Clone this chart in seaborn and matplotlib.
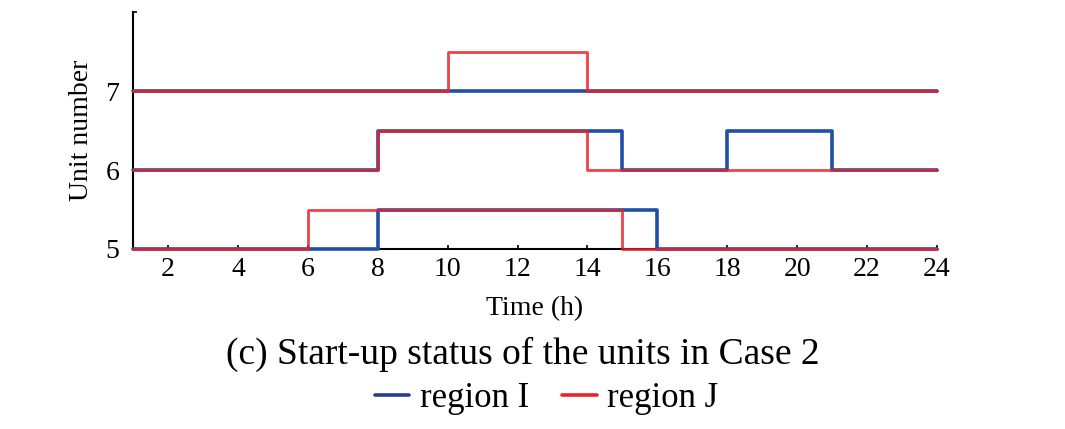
import numpy as np
import pandas as pd
import matplotlib
matplotlib.use("Agg")
import matplotlib.pyplot as plt
from matplotlib.lines import Line2D
import seaborn as sns

# Hourly on/off status of each unit (hours 1..24)
hours = list(range(1, 25))
units = [5, 6, 7]

# region I (blue)
status_I = {
    5: [0]*7 + [1]*8 + [0]*9,          # on from 8 to 16
    6: [0]*7 + [1]*7 + [0]*3 + [1]*3 + [0]*4,  # 8-15, 18-21
    7: [0]*24,
}
# region J (red)
status_J = {
    5: [0]*5 + [1]*9 + [0]*10,         # on from 6 to 15
    6: [0]*7 + [1]*6 + [0]*11,         # on from 8 to 14
    7: [0]*9 + [1]*4 + [0]*11,         # on from 10 to 14
}

blue = "#1f4fa8"
red = "#ec2229"

sns.set_style("ticks")
plt.rcParams["font.family"] = ["Liberation Serif", "DejaVu Serif"]
plt.rcParams["text.color"] = "black"
plt.rcParams["axes.labelcolor"] = "black"

fig = plt.figure(figsize=(10.65, 4.29), dpi=100)
ax = fig.add_axes([0.1249, 0.4196, 0.7549, 0.552])

for u in units:
    df = pd.DataFrame({"hour": hours, "level": [u + 0.5 * s for s in status_I[u]]})
    sns.lineplot(data=df, x="hour", y="level", ax=ax, color=blue, lw=2.6,
                 drawstyle="steps-post", estimator=None, sort=False,
                 zorder=3, clip_on=False)
for u in units:
    df = pd.DataFrame({"hour": hours, "level": [u + 0.5 * s for s in status_J[u]]})
    sns.lineplot(data=df, x="hour", y="level", ax=ax, color=red, lw=2.0, alpha=0.85,
                 drawstyle="steps-post", estimator=None, sort=False,
                 zorder=4, clip_on=False)

ax.set_xlim(1, 24)
ax.set_ylim(5, 8)
ax.set_xticks(range(2, 25, 2))
ax.set_yticks([5, 6, 7, 8])
ax.set_yticklabels(["5", "6", "7", ""])
ax.tick_params(direction="in", length=3, width=1.2, labelsize=20, colors="black")
ax.tick_params(axis="y", pad=10)
ax.tick_params(axis="x", pad=6)
sns.despine(ax=ax)
for s in ["left", "bottom"]:
    ax.spines[s].set_linewidth(1.5)
    ax.spines[s].set_color("black")

ax.set_xlabel("Time (h)", fontsize=20, labelpad=10)
ax.set_ylabel("Unit number", fontsize=20, labelpad=8)

fig.text(0.491, 0.174, "(c) Start-up status of the units in Case 2", ha="center",
         va="center", fontsize=27)

handles = [Line2D([], [], color="#2a3c96", lw=2.6), Line2D([], [], color=red, lw=2.6)]
fig.legend(handles, ["region I", "region J"], loc="center", bbox_to_anchor=(0.513, 0.07),
           ncol=2, frameon=False, fontsize=25, handlelength=1.0, columnspacing=0.95,
           handletextpad=0.3)

fig.savefig("out.png", dpi=100)
